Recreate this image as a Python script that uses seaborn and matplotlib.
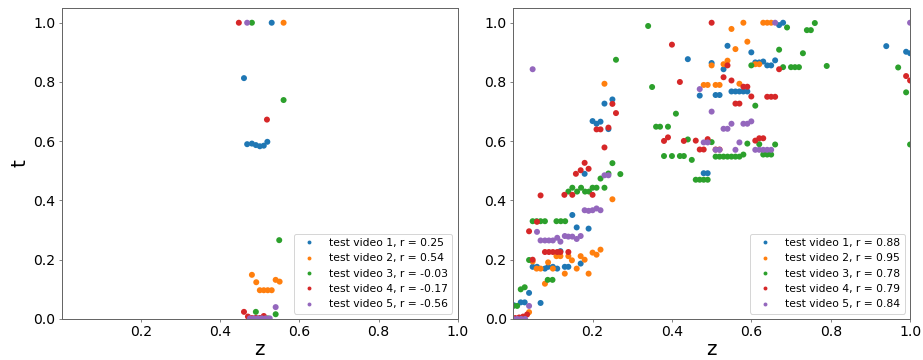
"""
    Scatter of predicted z vs. ground truth t for five test videos (two models).
"""

import pandas as pd
import matplotlib
matplotlib.use('Agg')
import matplotlib.pyplot as plt
import seaborn as sns

# Left panel data (per video)
left_z = {
    1: [0.46, 0.468, 0.48, 0.49, 0.50, 0.51, 0.519, 0.53],
    2: [0.48, 0.491, 0.50, 0.51, 0.52, 0.53, 0.54, 0.55, 0.56],
    3: [0.48, 0.49, 0.50, 0.51, 0.52, 0.54, 0.549, 0.56],
    4: [0.447, 0.46, 0.47, 0.48, 0.49, 0.50, 0.51, 0.518],
    5: [0.468, 0.475, 0.485, 0.495, 0.505, 0.515, 0.525, 0.54],
}
left_t = {
    1: [0.813, 0.59, 0.592, 0.587, 0.583, 0.585, 0.598, 1.0],
    2: [0.149, 0.124, 0.097, 0.097, 0.097, 0.097, 0.132, 0.126, 1.0],
    3: [1.0, 0.024, 0.002, 0.003, 0.002, 0.016, 0.266, 0.739],
    4: [1.0, 0.024, 0.008, 0.003, 0.004, 0.003, 0.01, 0.673],
    5: [1.0, 0.002, 0.002, 0.002, 0.002, 0.002, 0.002, 0.04],
}
left_r = [0.25, 0.54, -0.03, -0.17, -0.56]

# Right panel data (per video)
right_z = {
    1: [0.002, 0.019, 0.029, 0.04, 0.069, 0.049, 0.06, 0.08, 0.088, 0.10, 0.111, 0.119,
        0.13, 0.139, 0.149, 0.16, 0.17, 0.18, 0.19, 0.2, 0.21, 0.22, 0.23, 0.24, 0.25,
        0.44, 0.47, 0.48, 0.49, 0.50, 0.51, 0.52, 0.53, 0.54, 0.55, 0.56, 0.57, 0.58,
        0.59, 0.60, 0.61, 0.62, 0.63, 0.64, 0.65, 0.66, 0.67, 0.68, 0.94, 0.99, 1.0],
    2: [0.04, 0.049, 0.059, 0.069, 0.08, 0.088, 0.10, 0.109, 0.119, 0.13, 0.139, 0.148,
        0.16, 0.17, 0.18, 0.19, 0.2, 0.21, 0.22, 0.23, 0.25, 0.48, 0.49, 0.50, 0.51,
        0.52, 0.53, 0.54, 0.55, 0.56, 0.57, 0.58, 0.59, 0.61, 0.62, 0.63, 0.64, 0.65],
    3: [0.0, 0.01, 0.019, 0.029, 0.04, 0.049, 0.059, 0.069, 0.08, 0.087, 0.099, 0.109,
        0.12, 0.131, 0.139, 0.149, 0.161, 0.171, 0.181, 0.191, 0.2, 0.21, 0.22, 0.23,
        0.24, 0.25, 0.259, 0.27, 0.34, 0.35, 0.36, 0.37, 0.38, 0.39, 0.40, 0.41, 0.42,
        0.43, 0.44, 0.45, 0.46, 0.47, 0.48, 0.49, 0.50, 0.51, 0.52, 0.53, 0.54, 0.55,
        0.56, 0.57, 0.58, 0.59, 0.60, 0.61, 0.62, 0.63, 0.64, 0.65, 0.66, 0.67, 0.68,
        0.69, 0.70, 0.71, 0.72, 0.73, 0.74, 0.75, 0.76, 0.79, 0.97, 0.99, 1.0],
    4: [0.005, 0.015, 0.025, 0.035, 0.04, 0.049, 0.06, 0.069, 0.08, 0.09, 0.10, 0.111,
        0.119, 0.129, 0.139, 0.149, 0.158, 0.17, 0.18, 0.19, 0.2, 0.21, 0.22, 0.23, 0.24,
        0.25, 0.259, 0.38, 0.39, 0.40, 0.42, 0.43, 0.46, 0.47, 0.48, 0.49, 0.50, 0.51,
        0.52, 0.53, 0.54, 0.55, 0.56, 0.57, 0.58, 0.59, 0.60, 0.61, 0.62, 0.63, 0.64,
        0.65, 0.66, 0.67, 0.99, 1.0],
    5: [0.0, 0.01, 0.02, 0.03, 0.04, 0.049, 0.06, 0.069, 0.08, 0.09, 0.10, 0.111, 0.119,
        0.13, 0.139, 0.149, 0.16, 0.17, 0.18, 0.19, 0.2, 0.21, 0.22, 0.23, 0.24, 0.47,
        0.48, 0.49, 0.50, 0.51, 0.52, 0.53, 0.54, 0.55, 0.56, 0.57, 0.58, 0.59, 0.60,
        0.61, 0.62, 0.63, 0.64, 0.65, 0.66, 1.0],
}
right_t = {
    1: [0.046, 0.056, 0.056, 0.088, 0.054, 0.176, 0.176, 0.17, 0.176, 0.176, 0.17, 0.229,
        0.176, 0.176, 0.351, 0.309, 0.187, 0.49, 0.305, 0.668, 0.659, 0.666, 0.727, 0.641,
        0.741, 0.877, 0.754, 0.492, 0.492, 0.864, 0.756, 0.756, 0.843, 0.922, 0.768,
        0.768, 0.768, 0.768, 0.768, 0.9, 0.866, 0.866, 0.869, 0.856, 0.856, 0.873, 0.992,
        1.0, 0.921, 0.902, 0.897],
    2: [0.023, 0.194, 0.17, 0.17, 0.119, 0.191, 0.17, 0.212, 0.212, 0.153, 0.212, 0.198,
        0.17, 0.212, 0.2, 0.153, 0.224, 0.217, 0.234, 0.794, 0.404, 0.79, 0.79, 0.856,
        0.79, 0.79, 0.86, 0.872, 0.979, 0.911, 0.794, 1.0, 0.936, 0.86, 0.86, 1.0, 1.0, 1.0],
    3: [0.044, 0.044, 0.1, 0.107, 0.199, 0.33, 0.33, 0.33, 0.33, 0.132, 0.132, 0.33, 0.33,
        0.33, 0.43, 0.443, 0.43, 0.443, 0.43, 0.43, 0.443, 0.443, 0.474, 0.443, 0.491,
        0.526, 0.875, 0.489, 0.989, 0.783, 0.649, 0.649, 0.55, 0.649, 0.55, 0.693, 0.55,
        0.55, 0.606, 0.537, 0.47, 0.47, 0.47, 0.47, 0.597, 0.548, 0.548, 0.548, 0.548,
        0.548, 0.548, 0.548, 0.555, 0.592, 0.856, 0.72, 0.59, 0.555, 0.555, 0.555, 0.589,
        0.909, 0.85, 0.984, 0.85, 0.85, 0.85, 0.897, 0.975, 0.975, 0.999, 0.854, 0.849,
        0.765, 0.589],
    4: [0.003, 0.005, 0.008, 0.015, 0.296, 0.2, 0.328, 0.417, 0.226, 0.226, 0.226, 0.226,
        0.226, 0.419, 0.226, 0.419, 0.49, 0.502, 0.527, 0.507, 0.419, 0.64, 0.64, 0.579,
        0.646, 0.726, 0.695, 0.601, 0.613, 0.926, 0.80, 0.601, 0.602, 0.572, 0.572, 0.607,
        1.0, 0.572, 0.572, 0.816, 0.856, 0.805, 0.727, 0.727, 0.784, 0.784, 0.751, 0.602,
        0.61, 0.61, 0.75, 0.75, 0.75, 0.843, 0.82, 0.805],
    5: [0.0, 0.0, 0.0, 0.0, 0.044, 0.843, 0.294, 0.265, 0.265, 0.265, 0.265, 0.274, 0.261,
        0.28, 0.278, 0.278, 0.27, 0.28, 0.367, 0.365, 0.367, 0.373, 0.367, 0.485, 0.485,
        0.776, 0.596, 0.596, 0.70, 0.571, 0.571, 0.642, 0.642, 0.659, 0.571, 0.596, 0.659,
        0.659, 0.667, 0.571, 0.571, 0.571, 0.571, 0.571, 1.0, 1.0],
}
right_r = [0.88, 0.95, 0.78, 0.79, 0.84]

COLORS = sns.color_palette('tab10', 5)


def build_frame(z_dict, t_dict, r_list):
    rows = []
    labels = []
    for i, r in enumerate(r_list):
        vid = i + 1
        label = f"test video {vid}, r = {r:.2f}"
        labels.append(label)
        for z, t in zip(z_dict[vid], t_dict[vid]):
            rows.append({'z': z, 't': t, 'video': label})
    return pd.DataFrame(rows), labels


def draw_panel(ax, df, labels, show_ylabel):
    sns.scatterplot(data=df, x='z', y='t', hue='video', hue_order=labels,
                    palette=COLORS, s=36, linewidth=0, ax=ax)
    ax.set_xlim(0, 1)
    ax.set_ylim(0, 1.05)
    ax.set_xticks([0.2, 0.4, 0.6, 0.8, 1.0])
    ax.set_yticks([0.0, 0.2, 0.4, 0.6, 0.8, 1.0])
    ax.tick_params(labelsize=14, length=3, color='0.4')
    ax.set_xlabel('z', fontsize=20, labelpad=1)
    ax.set_ylabel('t' if show_ylabel else '', fontsize=20)
    for sp in ax.spines.values():
        sp.set_color('0.4')
        sp.set_linewidth(1.0)
    ax.legend(loc='lower right', fontsize=10.7, markerscale=0.65,
              labelspacing=0.5, handletextpad=0.9)


# Rendered at 72 dpi so point sizes match the downscaled original
plt.rcParams['font.family'] = ['DejaVu Sans']
DPI = 72
fig = plt.figure(figsize=(923 / DPI, 360 / DPI), dpi=DPI)
ax1 = fig.add_axes([0.067, 0.114, 0.429, 0.864])
ax2 = fig.add_axes([0.556, 0.114, 0.430, 0.864])

df_left, lab_left = build_frame(left_z, left_t, left_r)
df_right, lab_right = build_frame(right_z, right_t, right_r)

draw_panel(ax1, df_left, lab_left, True)
draw_panel(ax2, df_right, lab_right, False)

fig.savefig('out.png', dpi=DPI)
